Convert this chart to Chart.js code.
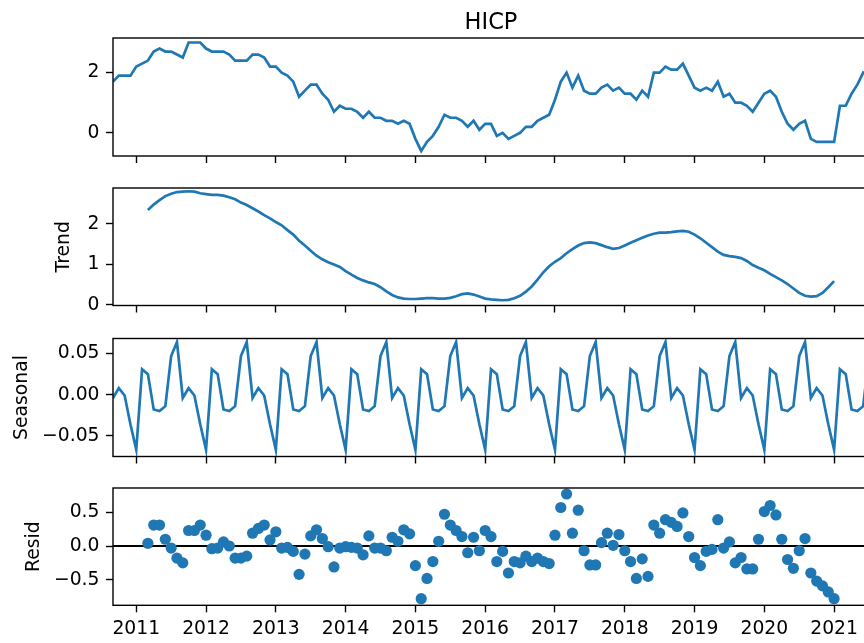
<!DOCTYPE html>
<html>
<head>
<meta charset="utf-8">
<script src="https://cdn.jsdelivr.net/npm/chart.js@4/dist/chart.umd.min.js"></script>
<style>
html, body { margin: 0; padding: 0; width: 864px; height: 643px; overflow: hidden; background: #fff; }
canvas { position: absolute; left: 0; }
</style>
</head>
<body>
<canvas id="obs" width="880" height="175" style="top:0px"></canvas>
<canvas id="trend" width="880" height="155" style="top:170px"></canvas>
<canvas id="seas" width="880" height="155" style="top:320px"></canvas>
<canvas id="resid" width="880" height="173" style="top:470px"></canvas>
<script>
// monthly series, month-end dates, first point Aug 2010
const firstYear = 2010
const firstMonth = 8

// observed HICP, Aug 2010 .. Jun 2021
const hicp = [
    1.7, 1.9, 1.9, 1.9, 2.2,
    2.3, 2.4, 2.7, 2.8, 2.7, 2.7, 2.6, 2.5, 3.0, 3.0, 3.0, 2.8,
    2.7, 2.7, 2.7, 2.6, 2.4, 2.4, 2.4, 2.6, 2.6, 2.5, 2.2, 2.2,
    2.0, 1.9, 1.7, 1.2, 1.4, 1.6, 1.6, 1.3, 1.1, 0.7, 0.9, 0.8,
    0.8, 0.7, 0.5, 0.7, 0.5, 0.5, 0.4, 0.4, 0.3, 0.4, 0.3, -0.2,
    -0.6, -0.3, -0.1, 0.2, 0.6, 0.5, 0.5, 0.4, 0.2, 0.4, 0.1, 0.3,
    0.3, -0.1, 0.0, -0.2, -0.1, 0.0, 0.2, 0.2, 0.4, 0.5, 0.6, 1.1,
    1.7, 2.0, 1.5, 1.9, 1.4, 1.3, 1.3, 1.5, 1.6, 1.4, 1.5, 1.3,
    1.3, 1.1, 1.4, 1.2, 2.0, 2.0, 2.2, 2.1, 2.1, 2.3, 1.9, 1.5,
    1.4, 1.5, 1.4, 1.7, 1.2, 1.3, 1.0, 1.0, 0.9, 0.7, 1.0, 1.3,
    1.4, 1.2, 0.7, 0.3, 0.1, 0.3, 0.4, -0.2, -0.3, -0.3, -0.3, -0.3,
    0.9, 0.9, 1.3, 1.6, 2.0, 1.9
]

// trend and residual start 6 months in (Feb 2011) and stop 6 months early (Dec 2020)
const edgeGap = 6
const trendVals = [
    2.34, 2.47, 2.58, 2.68, 2.74, 2.78, 2.79, 2.80, 2.79, 2.75, 2.73,
    2.71, 2.71, 2.69, 2.65, 2.60, 2.52, 2.46, 2.38, 2.30, 2.21, 2.13, 2.04,
    1.96, 1.84, 1.73, 1.58, 1.46, 1.33, 1.21, 1.12, 1.05, 0.99, 0.93, 0.83,
    0.74, 0.66, 0.60, 0.55, 0.51, 0.43, 0.33, 0.24, 0.18, 0.15, 0.14, 0.14,
    0.15, 0.16, 0.16, 0.15, 0.15, 0.17, 0.21, 0.26, 0.28, 0.25, 0.20, 0.15,
    0.13, 0.12, 0.11, 0.12, 0.16, 0.22, 0.32, 0.45, 0.62, 0.80, 0.95, 1.06,
    1.15, 1.27, 1.37, 1.46, 1.52, 1.54, 1.52, 1.47, 1.42, 1.38, 1.40, 1.46,
    1.53, 1.59, 1.65, 1.71, 1.75, 1.78, 1.78, 1.79, 1.81, 1.82, 1.80, 1.73,
    1.64, 1.53, 1.42, 1.31, 1.23, 1.20, 1.18, 1.15, 1.08, 0.98, 0.91, 0.85,
    0.76, 0.68, 0.60, 0.51, 0.40, 0.29, 0.22, 0.20, 0.21, 0.29, 0.43, 0.58
]
const residVals = [
    0.04, 0.31, 0.31, 0.10, -0.03, -0.18, -0.25, 0.23, 0.23, 0.31, 0.16,
    -0.04, -0.03, 0.06, 0.00, -0.18, -0.18, -0.15, 0.19, 0.26, 0.31, 0.09, 0.21,
    -0.03, -0.02, -0.08, -0.42, -0.12, 0.15, 0.24, 0.11, -0.01, -0.31, -0.03, -0.01,
    -0.02, -0.03, -0.13, 0.15, -0.03, -0.03, -0.07, 0.13, 0.07, 0.24, 0.18, -0.29,
    -0.78, -0.48, -0.23, 0.07, 0.47, 0.31, 0.23, 0.14, -0.10, 0.13, -0.07, 0.23,
    0.14, -0.23, -0.08, -0.40, -0.23, -0.25, -0.15, -0.23, -0.18, -0.23, -0.26, 0.16,
    0.57, 0.77, 0.19, 0.53, -0.07, -0.28, -0.28, 0.05, 0.19, 0.01, 0.17, -0.07,
    -0.23, -0.48, -0.19, -0.45, 0.31, 0.19, 0.39, 0.35, 0.29, 0.49, 0.14, -0.17,
    -0.29, -0.08, -0.05, 0.39, -0.03, 0.06, -0.25, -0.17, -0.34, -0.34, 0.10, 0.51,
    0.60, 0.46, 0.10, -0.20, -0.33, -0.07, 0.11, -0.40, -0.52, -0.59, -0.68, -0.78
]

// seasonal component, Jan .. Dec (repeats every year)
const seasonalByMonth = [0.031, 0.025, -0.018, -0.020, -0.014, 0.047, 0.064, -0.004, 0.008, -0.001, -0.036, -0.067]

// axis ticks
const yearTicks = [2011, 2012, 2013, 2014, 2015, 2016, 2017, 2018, 2019, 2020, 2021]
const yearLabels = ['2011', '2012', '2013', '2014', '2015', '2016', '2017', '2018', '2019', '2020', '2021']
const obsTicks = [0, 2]
const obsLabels = ['0', '2']
const trendTicks = [0, 1, 2]
const trendLabels = ['0', '1', '2']
const seasTicks = [-0.05, 0, 0.05]
const seasLabels = ['\u22120.05', '0.00', '0.05']
const residTicks = [-0.5, 0, 0.5]
const residLabels = ['\u22120.5', '0.0', '0.5']

const blue = '#1f77b4'
const tickFont = { family: 'DejaVu Sans', size: 18.75 }

Chart.defaults.font.family = 'DejaVu Sans'
Chart.defaults.color = '#000'

// x position of each month (month-end, fractional year)
const xs = hicp.map((v, i) => firstYear + (firstMonth + i) / 12)
const xMin = xs[0]
const xMax = xs[xs.length - 1]

const pad = (vals) => {
    const out = hicp.map(() => null)
    vals.forEach((v, i) => { out[i + edgeGap] = v })
    return out
}
const toPoints = (vals) => xs.map((x, i) => ({ x: x, y: vals[i] }))

const observed = hicp
const trend = pad(trendVals)
const resid = pad(residVals)
const seasonal = xs.map((x, i) => seasonalByMonth[(firstMonth - 1 + i) % 12])

// matplotlib style box around the plot area
const frame = {
    id: 'frame',
    afterDatasetsDraw(chart) {
        const { ctx, chartArea: a } = chart
        ctx.save()
        ctx.strokeStyle = '#000'
        ctx.lineWidth = 1.4
        ctx.strokeRect(a.left, a.top, a.right - a.left, a.bottom - a.top)
        ctx.restore()
    }
}

const makeOptions = (cfg) => ({
    responsive: false,
    animation: false,
    devicePixelRatio: 1,
    layout: { padding: { top: cfg.padTop, right: 11, bottom: 0, left: 0 } },
    plugins: {
        legend: { display: false },
        tooltip: { enabled: false },
        title: cfg.title || { display: false }
    },
    scales: {
        x: {
            type: 'linear',
            min: xMin,
            max: xMax,
            afterBuildTicks: (s) => { s.ticks = yearTicks.map(v => ({ value: v })) },
            afterFit: (s) => { s.height = cfg.xHeight },
            border: { display: false },
            grid: { drawOnChartArea: false, drawTicks: true, tickLength: 7, tickWidth: 1.4, tickColor: '#000' },
            ticks: {
                display: cfg.showX,
                padding: 6,
                color: '#000',
                font: tickFont,
                maxRotation: 0,
                autoSkip: false,
                callback: (v, i) => yearLabels[i]
            }
        },
        y: {
            min: cfg.min,
            max: cfg.max,
            afterBuildTicks: (s) => { s.ticks = cfg.ticks.map(v => ({ value: v })) },
            afterFit: (s) => { s.width = 113 },
            border: { display: false },
            grid: { drawOnChartArea: false, drawTicks: true, tickLength: 7, tickWidth: 1.4, tickColor: '#000' },
            ticks: {
                padding: 6.5,
                color: '#000',
                font: tickFont,
                callback: (v, i) => cfg.labels[i]
            },
            title: {
                display: !!cfg.ylabel,
                text: cfg.ylabel || '',
                color: '#000',
                font: tickFont,
                padding: { top: cfg.labelPad || 0, bottom: 0 }
            }
        }
    }
})

const lineSet = (vals) => ({
    data: toPoints(vals),
    borderColor: blue,
    borderWidth: 2.7,
    pointRadius: 0,
    tension: 0,
    fill: false
})

new Chart(document.getElementById('obs'), {
    type: 'line',
    data: { datasets: [lineSet(observed)] },
    options: makeOptions({
        padTop: 0, xHeight: 19, showX: false, min: -0.77, max: 3.15,
        ticks: obsTicks, labels: obsLabels,
        title: {
            display: true, text: 'HICP', fullSize: false, color: '#000',
            font: { family: 'DejaVu Sans', size: 22.5, weight: 'normal' },
            padding: { top: 10, bottom: 1 }
        }
    }),
    plugins: [frame]
})

new Chart(document.getElementById('trend'), {
    type: 'line',
    data: { datasets: [lineSet(trend)] },
    options: makeOptions({
        padTop: 18, xHeight: 19.5, showX: false, min: -0.02, max: 2.88,
        ticks: trendTicks, labels: trendLabels, ylabel: 'Trend', labelPad: 53
    }),
    plugins: [frame]
})

new Chart(document.getElementById('seas'), {
    type: 'line',
    data: { datasets: [lineSet(seasonal)] },
    options: makeOptions({
        padTop: 18.5, xHeight: 18.5, showX: false, min: -0.0752, max: 0.0683,
        ticks: seasTicks, labels: seasLabels, ylabel: 'Seasonal', labelPad: 10.5
    }),
    plugins: [frame]
})

new Chart(document.getElementById('resid'), {
    type: 'line',
    data: {
        datasets: [
            {
                data: toPoints(resid),
                showLine: false,
                pointRadius: 5.6,
                pointBackgroundColor: blue,
                pointBorderWidth: 0,
                order: 1
            },
            {
                data: [{ x: xMin, y: 0 }, { x: xMax, y: 0 }],
                borderColor: '#000',
                borderWidth: 2.2,
                pointRadius: 0,
                order: 2
            }
        ]
    },
    options: makeOptions({
        padTop: 18, xHeight: 37.7, showX: true, min: -0.878, max: 0.859,
        ticks: residTicks, labels: residLabels, ylabel: 'Resid', labelPad: 22.5
    }),
    plugins: [frame]
})
</script>
</body>
</html>
